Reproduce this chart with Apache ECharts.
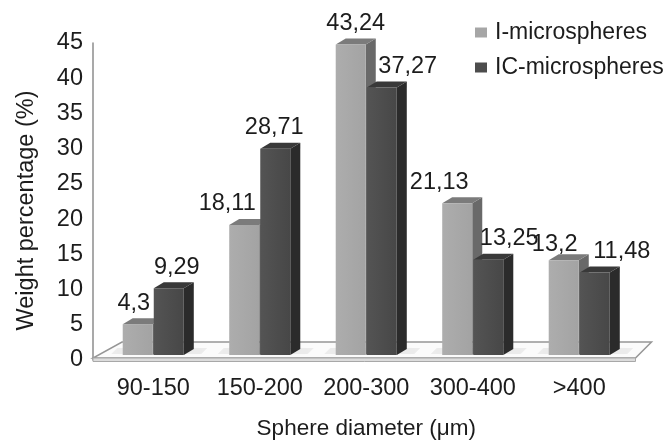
<!DOCTYPE html>
<html>
<head>
<meta charset="utf-8">
<script src="https://cdn.jsdelivr.net/npm/echarts@6/dist/echarts.min.js"></script>
<style>
  html, body { margin: 0; padding: 0; background: #fff; }
  #chart { width: 670px; height: 446px; }
</style>
</head>
<body>
<div id="chart"></div>
<script>
// Size classes of the spheres and weight percentage per class
const categories = ['90-150', '150-200', '200-300', '300-400', '>400'];
const iMicrospheres = [4.3, 18.11, 43.24, 21.13, 13.2];
const icMicrospheres = [9.29, 28.71, 37.27, 13.25, 11.48];

// Nudges for the value labels so neighbouring labels don't collide
const iLabelShift = [-9, -22, 0, -23, -14];
const iLabelDrop = [0, 0, 0, 0, 5];
const icLabelShift = [3, -6, 21, 16, 22];
const icLabelDrop = [0, 0, 0, 0, 0];

const FONT = '"Liberation Sans", Arial, Helvetica, sans-serif';
const TEXT = '#1c1c1c';
const DEPTH_X = 10, DEPTH_Y = -6;

function fmt(v) { return String(v).replace('.', ','); }

function makeBar(isLeft, colors, shifts, drops) {
  return function (params, api) {
    const cat = api.value(0);
    const v = api.value(1);
    const base = api.coord([cat, 0]);
    const top = api.coord([cat, v]);
    const band = api.size([1, 0])[0];
    const w = band * 0.282;
    const cx = base[0];
    const x0 = isLeft ? cx - w - 0.5 : cx + 0.5;
    const x1 = x0 + w;
    const yb = base[1], yt = top[1];
    const dx = DEPTH_X, dy = DEPTH_Y;
    const k = params.dataIndex;
    return {
      type: 'group',
      children: [
        { type: 'polygon', shape: { points: [[x1, yb], [x1 + dx, yb + dy], [x1 + dx, yt + dy], [x1, yt]] },
          style: { fill: colors.side } },
        { type: 'polygon', shape: { points: [[x0, yt], [x0 + dx, yt + dy], [x1 + dx, yt + dy], [x1, yt]] },
          style: { fill: colors.top } },
        { type: 'rect', shape: { x: x0, y: yt, width: w, height: yb - yt },
          style: { fill: new echarts.graphic.LinearGradient(0, 0, 1, 0, [
            { offset: 0, color: colors.frontL }, { offset: 1, color: colors.front }]) } },
        { type: 'text',
          style: { text: fmt(v), x: x0 + w / 2 + dx / 2 + shifts[k], y: yt + dy - 15 + drops[k],
                   align: 'center', verticalAlign: 'middle', fill: TEXT, font: '23.5px ' + FONT } }
      ]
    };
  };
}

// Floor plate under the bars, with soft shadows where the bars stand
function floorRender(params, api) {
  const first = api.coord([0, 0]);
  const last = api.coord([categories.length - 1, 0]);
  const band = api.size([1, 0])[0];
  const xl = first[0] - band / 2, xr = last[0] + band / 2, y = first[1];
  const children = [
    { type: 'polygon', shape: { points: [[xl - 7, y - 2], [xr + 3, y - 2], [xr + 19, y - 18], [xl + 22, y - 18]] },
      style: { fill: '#fbfbfb', stroke: '#969696', lineWidth: 1.5 } },
    { type: 'polygon', shape: { points: [[xl - 7, y - 2], [xr + 3, y - 2], [xr + 3, y + 1.5], [xl - 7, y + 1.5]] },
      style: { fill: '#dcdcdc', stroke: '#a8a8a8', lineWidth: 1 } }
  ];
  for (let i = 0; i < categories.length; i++) {
    const c = api.coord([i, 0])[0];
    const w = band * 0.282;
    children.push({
      type: 'polygon',
      shape: { points: [[c - w - 12, y - 6], [c + w + 18, y - 6], [c + w + 24, y - 12], [c - w - 6, y - 12]] },
      style: { fill: 'rgba(0,0,0,0.06)', shadowBlur: 10, shadowColor: 'rgba(0,0,0,0.18)' }
    });
  }
  return { type: 'group', children };
}

const chart = echarts.init(document.getElementById('chart'), null, { renderer: 'canvas' });
chart.setOption({
  animation: false,
  backgroundColor: '#fff',
  textStyle: { fontFamily: FONT },
  grid: { left: 100, right: 37.5, top: 43, bottom: 86 },
  legend: {
    orient: 'vertical', left: 470, top: 16,
    itemWidth: 12, itemHeight: 10, itemGap: 12,
    icon: 'rect',
    textStyle: { fontSize: 23, color: TEXT, fontFamily: FONT, padding: [0, 0, 0, 3] },
    data: ['I-microspheres', 'IC-microspheres']
  },
  xAxis: {
    type: 'category', data: categories,
    axisLine: { show: false }, axisTick: { show: false },
    axisLabel: { fontSize: 23.5, color: TEXT, margin: 17, fontFamily: FONT, interval: 0 },
    name: 'Sphere diameter (\u03bcm)', nameLocation: 'middle', nameGap: 57,
    nameTextStyle: { fontSize: 22.5, color: TEXT, fontFamily: FONT }
  },
  yAxis: [
    {
      type: 'value', min: 0, max: 45, interval: 5, offset: 7,
      axisLine: { show: true, lineStyle: { color: '#8c8c8c', width: 1.5 } },
      axisTick: { show: false }, splitLine: { show: false },
      axisLabel: { fontSize: 23.5, color: TEXT, margin: 10, fontFamily: FONT },
      name: 'Weight percentage (%)', nameLocation: 'middle', nameGap: 54, nameRotate: 90,
      nameTextStyle: { fontSize: 23.5, color: TEXT, fontFamily: FONT, padding: [0, 18, 0, 0] }
    },
    { type: 'value', min: -0.696, max: 43.454, show: false }
  ],
  series: [
    { type: 'custom', name: 'floor', yAxisIndex: 0, renderItem: floorRender, data: [[0, 0]], z: 1, silent: true },
    { type: 'custom', name: 'I-microspheres', yAxisIndex: 1, clip: false, z: 2,
      itemStyle: { color: '#a6a6a6' },
      renderItem: makeBar(true, { front: '#a3a3a3', frontL: '#adadad', top: '#7b7b7b', side: '#696969' }, iLabelShift, iLabelDrop),
      data: iMicrospheres.map((v, i) => [i, v]) },
    { type: 'custom', name: 'IC-microspheres', yAxisIndex: 1, clip: false, z: 3,
      itemStyle: { color: '#4d4d4d' },
      renderItem: makeBar(false, { front: '#474747', frontL: '#545454', top: '#393939', side: '#2b2b2b' }, icLabelShift, icLabelDrop),
      data: icMicrospheres.map((v, i) => [i, v]) }
  ]
});
</script>
</body>
</html>
